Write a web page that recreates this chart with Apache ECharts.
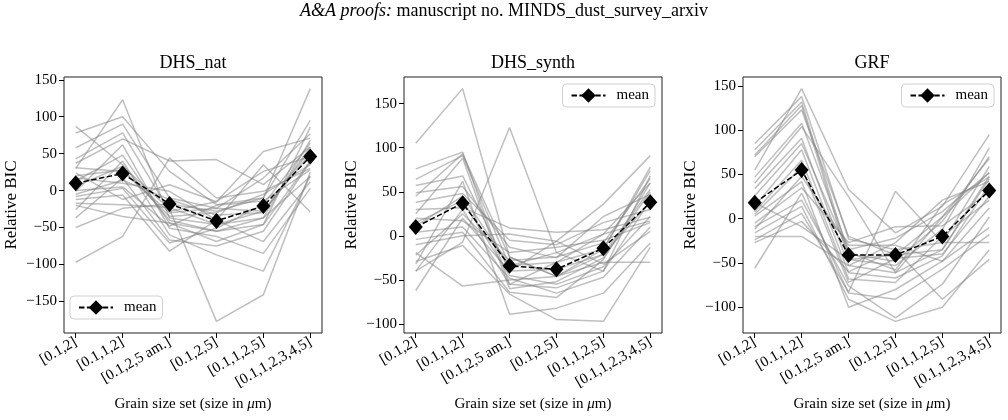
<!DOCTYPE html>
<html>
<head>
<meta charset="utf-8">
<script src="https://cdn.jsdelivr.net/npm/echarts@6/dist/echarts.min.js"></script>
<style>
  html, body { margin: 0; padding: 0; background: #fff; }
  #main { width: 1008px; height: 420px; }
</style>
</head>
<body>
<div id="main"></div>
<script>
// grain size sets on the x axis
var categories = ['[0.1,2]', '[0.1,1,2]', '[0.1,2,5 am.]', '[0.1,2,5]', '[0.1,1,2,5]', '[0.1,1,2,3,4,5]'];
var titles = ['DHS_nat', 'DHS_synth', 'GRF'];

// relative BIC per run (one row = one gray line)
var natRuns = [
  [30, 123, -37, -46, -28, 55],
  [87, 35, -40, -55, -37, 68],
  [78, 100, 26, -19, -10, 138],
  [58, 90, -10, -24, 17, 77],
  [-97, -62, 44, -10, -1, 30],
  [43, 78, -28, -15, 53, 71],
  [37, 70, 40, 42, 8, 59],
  [-1, 62, -51, -62, -85, 3],
  [13, 48, -44, -69, -46, 86],
  [-26, 40, -60, -87, -109, 20],
  [6, 33, -25, -177, -141, 25],
  [-37, 17, -67, -75, -55, 39],
  [-50, -24, -18, -28, -10, 95],
  [17, 10, -1, -40, 35, -29],
  [-8, 3, -71, -51, -19, 64],
  [-12, -6, -82, -40, -69, 12],
  [24, -12, 8, -15, 26, 46],
  [-17, -19, -23, -46, -37, 19],
  [31, 26, -30, -24, -28, 50],
  [-20, -35, -44, -55, -46, 40],
  [20, 28, -35, -30, -5, 35],
  [-5, 14, -12, -33, -30, 59],
  [0, 5, -48, -20, -14, 28]
];
var natMean = [10, 23, -18, -41, -21, 46];

var synthRuns = [
  [105, 167, -24, -46, -21, 53],
  [-40, -7, 123, -19, 2, 60],
  [76, 95, -55, -59, -40, 68],
  [64, 91, -34, -30, -15, 78],
  [57, 68, -40, -6, 36, 91],
  [49, 56, -13, -25, 22, 47],
  [38, 48, -5, -10, 15, 30],
  [30, 32, 9, 4, 7, 21],
  [20, 17, -19, -13, -5, 15],
  [4, 10, -48, -65, -47, 10],
  [-4, 4, -64, -70, -27, 60],
  [-10, 0, 2, -6, -32, 5],
  [-19, -57, -50, -46, -30, -30],
  [-29, -11, -66, -95, -97, -13],
  [-32, 62, -89, -82, -65, -8],
  [-62, 20, -40, -38, -21, 38],
  [11, 45, -34, -19, -40, 40],
  [-40, 30, -55, -30, 2, 17],
  [45, 93, -24, -46, -15, 74],
  [25, 88, -60, -52, -25, 50],
  [-22, 25, -28, -24, -8, 65],
  [15, 40, -45, -55, -35, 22]
];
var synthMean = [10, 37, -34, -38, -14, 38];

var grfRuns = [
  [55, 147, 33, -16, 14, 95],
  [85, 138, -23, -35, -27, 59],
  [78, 132, -40, -48, -3, 70],
  [72, 128, -46, -53, -12, 80],
  [70, 123, -20, -41, 2, 68],
  [47, 108, -35, -22, 8, 52],
  [40, 104, 25, -61, -35, 48],
  [34, 91, -53, -27, 21, 42],
  [14, 78, -61, -67, -42, 38],
  [8, 66, -68, -72, -20, 21],
  [3, 42, -100, -80, -48, 12],
  [-5, 35, -27, -9, -8, 30],
  [-56, 29, -84, -91, -57, -18],
  [-9, 21, -76, -112, -74, 2],
  [-16, 14, -91, -116, -100, -35],
  [-24, 6, -83, 31, -27, -27],
  [-27, -3, -60, -35, -91, -46],
  [18, -9, -46, -41, -35, 45],
  [-20, -20, -53, -61, 2, 52],
  [-12, 48, -30, -30, -48, -10],
  [26, 85, -38, -58, 16, 47],
  [5, 58, -72, -45, -40, 25]
];
var grfMean = [18, 55, -41, -41, -20, 32];

var yTicks = [
  [-150, -100, -50, 0, 50, 100, 150],
  [-100, -50, 0, 50, 100, 150],
  [-100, -50, 0, 50, 100, 150]
];

var panels = [
  { runs: natRuns, mean: natMean },
  { runs: synthRuns, mean: synthMean },
  { runs: grfRuns, mean: grfMean }
];

var FONT = '"Liberation Serif", "Times New Roman", serif';
var gridLefts = [64, 404, 743];
var legendPos = [
  { left: 70, top: 296 },
  { right: 353, top: 84 },
  { right: 14, top: 84 }
];

var grids = [], xAxes = [], yAxes = [], series = [], titleList = [], legends = [];

titleList.push({
  text: '{i|A&A proofs:} manuscript no. MINDS_dust_survey_arxiv',
  left: 'center',
  top: 2,
  padding: 0,
  textStyle: {
    fontFamily: FONT, fontSize: 18, fontWeight: 'normal', color: '#000',
    rich: { i: { fontFamily: FONT, fontSize: 18, fontStyle: 'italic', color: '#000' } }
  }
});

panels.forEach(function (p, i) {
  // matplotlib-style autoscale: 5% margin around the data
  var all = [];
  p.runs.forEach(function (r) { all = all.concat(r); });
  all = all.concat(p.mean);
  var lo = Math.min.apply(null, all), hi = Math.max.apply(null, all);
  var pad = (hi - lo) * 0.05;

  grids.push({
    left: gridLefts[i], top: 77, width: 258, height: 256,
    show: true, borderColor: '#222', borderWidth: 1, backgroundColor: 'transparent'
  });

  xAxes.push({
    type: 'value', gridIndex: i, min: -0.25, max: 5.25,
    splitLine: { show: false },
    axisLine: { show: false, onZero: false },
    axisTick: { show: true, length: 5, customValues: [0, 1, 2, 3, 4, 5], lineStyle: { color: '#000' } },
    axisLabel: {
      customValues: [0, 1, 2, 3, 4, 5], rotate: 30, margin: 8,
      fontFamily: FONT, fontSize: 15, color: '#000',
      formatter: function (v) { return categories[Math.round(v)]; }
    },
    name: 'Grain size set (size in {i|μ}m)',
    nameLocation: 'middle', nameGap: 64,
    nameTextStyle: {
      fontFamily: FONT, fontSize: 15, color: '#000', verticalAlign: 'top',
      rich: { i: { fontFamily: FONT, fontSize: 15, fontStyle: 'italic', color: '#000' } }
    }
  });

  yAxes.push({
    type: 'value', gridIndex: i, min: lo - pad, max: hi + pad,
    splitLine: { show: false },
    axisLine: { show: false, onZero: false },
    axisTick: { show: true, length: 5, customValues: yTicks[i], lineStyle: { color: '#000' } },
    axisLabel: {
      customValues: yTicks[i], margin: 7,
      fontFamily: FONT, fontSize: 15, color: '#000',
      formatter: function (v) { return String(v).replace('-', '\u2212'); }
    },
    name: 'Relative BIC', nameLocation: 'middle', nameRotate: 90, nameGap: 44,
    nameTextStyle: { fontFamily: FONT, fontSize: 17, color: '#000' }
  });

  titleList.push({
    text: titles[i],
    left: gridLefts[i] + 129, top: 54, textAlign: 'center', padding: 0,
    textStyle: { fontFamily: FONT, fontSize: 18, fontWeight: 'normal', color: '#000' }
  });

  p.runs.forEach(function (r) {
    series.push({
      type: 'line', xAxisIndex: i, yAxisIndex: i,
      data: r.map(function (v, k) { return [k, v]; }),
      symbol: 'none', silent: true, z: 1,
      lineStyle: { color: 'rgba(128,128,128,0.5)', width: 1.5 },
      animation: false
    });
  });

  series.push({
    name: 'mean', type: 'line', xAxisIndex: i, yAxisIndex: i,
    data: p.mean.map(function (v, k) { return [k, v]; }),
    symbol: 'diamond', symbolSize: [14, 16], z: 5,
    itemStyle: { color: '#000' },
    lineStyle: { color: '#000', width: 1.5, type: [5.5, 2.4] },
    animation: false
  });

  var lg = {
    data: ['mean'],
    top: legendPos[i].top,
    orient: 'vertical',
    itemWidth: 34, itemHeight: 18, itemGap: 4,
    padding: [4, 6, 4, 8],
    borderColor: '#d0d0d0', borderWidth: 1, borderRadius: 4,
    backgroundColor: 'rgba(255,255,255,0.8)',
    textStyle: { fontFamily: FONT, fontSize: 15, color: '#000', padding: [0, 0, 0, 6] },
    selectedMode: false
  };
  if (legendPos[i].left !== undefined) lg.left = legendPos[i].left;
  else lg.right = legendPos[i].right;
  legends.push(lg);
});

var chart = echarts.init(document.getElementById('main'), null, { renderer: 'canvas' });
chart.setOption({
  animation: false,
  backgroundColor: '#fff',
  title: titleList,
  legend: legends,
  grid: grids,
  xAxis: xAxes,
  yAxis: yAxes,
  series: series
});
</script>
</body>
</html>
